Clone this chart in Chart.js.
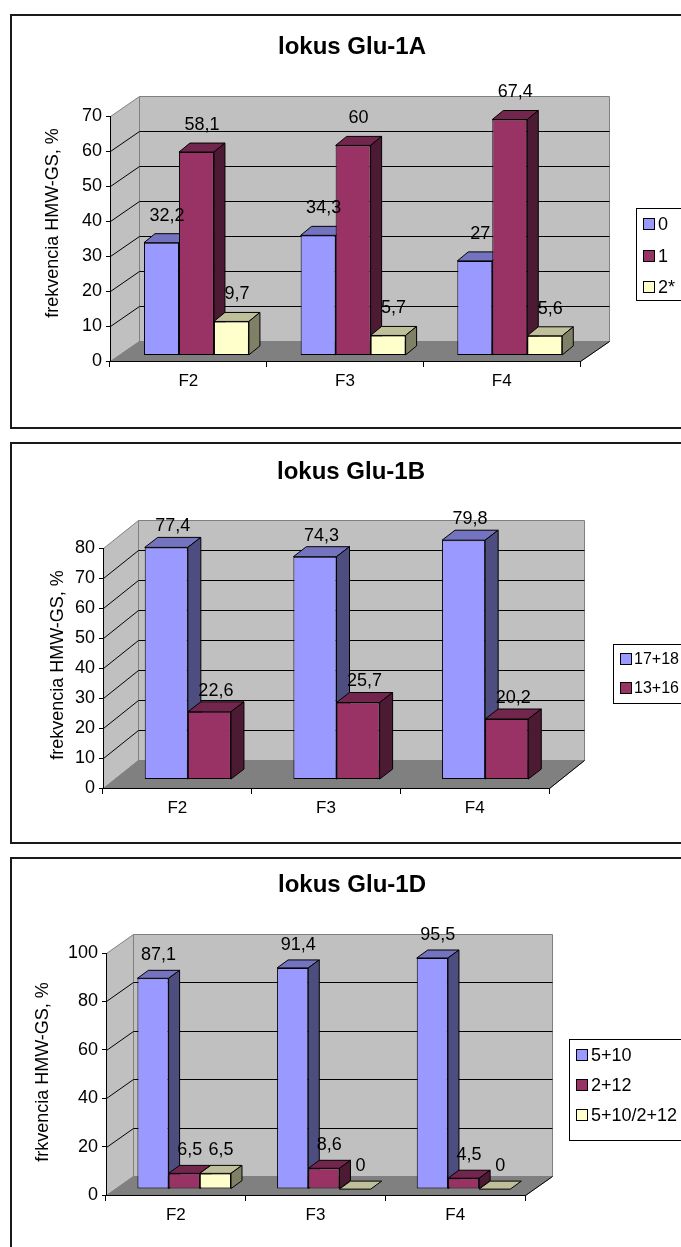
<!DOCTYPE html>
<html lang="sk">
<head>
  <meta charset="UTF-8">
  <title>lokus Glu-1</title>
  <style>
    body {
      margin: 0;
      background: #fff;
      overflow: hidden;
    }
    .box {
      position: absolute;
      left: 10px;
      width: 720px;
      border: 2px solid #1a1a1a;
      box-sizing: border-box;
    }
    canvas {
      position: absolute;
      left: 0;
    }
  </style>
</head>
<body>
  <div class="box" style="top:14px; height:415px;"></div>
  <div class="box" style="top:442px; height:402px;"></div>
  <div class="box" style="top:857px; height:420px;"></div>

  <canvas id="chartA" width="681" height="413" style="top:15px;"></canvas>
  <canvas id="chartB" width="681" height="400" style="top:443px;"></canvas>
  <canvas id="chartD" width="681" height="389" style="top:858px;"></canvas>

  <script src="https://cdn.jsdelivr.net/npm/chart.js"></script>
  <script>
    const categories = ['F2', 'F3', 'F4'];

    // lokus Glu-1A
    const seriesA = ['0', '1', '2*'];
    const glu1a_0 = [32.2, 34.3, 27];
    const glu1a_1 = [58.1, 60, 67.4];
    const glu1a_2 = [9.7, 5.7, 5.6];
    const yTicksA = [0, 10, 20, 30, 40, 50, 60, 70];

    // lokus Glu-1B
    const seriesB = ['17+18', '13+16'];
    const glu1b_1718 = [77.4, 74.3, 79.8];
    const glu1b_1316 = [22.6, 25.7, 20.2];
    const yTicksB = [0, 10, 20, 30, 40, 50, 60, 70, 80];

    // lokus Glu-1D
    const seriesD = ['5+10', '2+12', '5+10/2+12'];
    const glu1d_510 = [87.1, 91.4, 95.5];
    const glu1d_212 = [6.5, 8.6, 4.5];
    const glu1d_mix = [6.5, 0, 0];
    const yTicksD = [0, 20, 40, 60, 80, 100];

    // excel style colours: front / top / side
    const front = ['#9999ff', '#993366', '#ffffcc'];
    const topc = ['#7373bf', '#73264d', '#bfbf99'];
    const side = ['#4d4d80', '#4d1a33', '#808066'];

    const FONT = '"Liberation Sans", Arial, sans-serif';
    Chart.defaults.font.family = FONT;
    Chart.defaults.color = '#000';

    function poly(ctx, pts, fill, stroke) {
      ctx.beginPath();
      pts.forEach((p, k) => k ? ctx.lineTo(p[0], p[1]) : ctx.moveTo(p[0], p[1]));
      ctx.closePath();
      if (fill) { ctx.fillStyle = fill; ctx.fill(); }
      if (stroke) { ctx.strokeStyle = stroke; ctx.stroke(); }
    }

    function barList(chart) {
      const list = [];
      chart.data.datasets.forEach((ds, i) => {
        chart.getDatasetMeta(i).data.forEach((el, j) => list.push({ el, i, j }));
      });
      return list.sort((p, q) => p.el.x - q.el.x);
    }

    // draws walls, floor and the 3d faces of the bars
    const bar3d = {
      id: 'bar3d',
      beforeDraw(chart, args, o) {
        const ctx = chart.ctx, a = chart.chartArea, ys = chart.scales.y;
        const dx = o.wall[0], dy = o.wall[1];
        const L = a.left + .5, R = a.right + .5, T = a.top + .5, B = a.bottom + .5;
        ctx.save();
        ctx.lineWidth = 1;
        poly(ctx, [[L, B], [L + dx, B + dy], [L + dx, T + dy], [L, T]], '#c0c0c0', '#808080');
        poly(ctx, [[L + dx, T + dy], [R + dx, T + dy], [R + dx, B + dy], [L + dx, B + dy]], '#c0c0c0', '#808080');
        poly(ctx, [[L, B], [R, B], [R + dx, B + dy], [L + dx, B + dy]], '#808080', '#808080');
        ctx.strokeStyle = '#000';
        ys.ticks.forEach(t => {
          if (t.value <= ys.min || t.value >= ys.max) return;
          const py = Math.round(ys.getPixelForValue(t.value)) + .5;
          ctx.beginPath();
          ctx.moveTo(L, py);
          ctx.lineTo(L + dx, py + dy);
          ctx.lineTo(R + dx, py + dy);
          ctx.stroke();
        });
        ctx.beginPath();
        ctx.moveTo(R, B);
        ctx.lineTo(R + dx, B + dy);
        ctx.stroke();
        ctx.restore();
      },
      beforeDatasetsDraw(chart, args, o) {
        const ctx = chart.ctx;
        const bx = o.depth[0], by = o.depth[1];
        ctx.save();
        ctx.translate(o.wall[0] * o.plane, o.wall[1] * o.plane);
        ctx.lineWidth = 1;
        ctx.lineJoin = 'round';
        barList(chart).forEach(({ el, i }) => {
          const ds = chart.data.datasets[i];
          el.draw(ctx);
          const l = el.x - el.width / 2, r = el.x + el.width / 2;
          const t = Math.min(el.y, el.base), b = Math.max(el.y, el.base);
          poly(ctx, [[l, t], [r, t], [r + bx, t + by], [l + bx, t + by]], ds.topColor, '#000');
          if (b - t > 0.5) {
            poly(ctx, [[r, t], [r + bx, t + by], [r + bx, b + by], [r, b]], ds.sideColor, '#000');
          }
        });
        ctx.restore();
        return false;
      },
      afterDraw(chart, args, o) {
        const ctx = chart.ctx;
        const sx = o.wall[0] * o.plane, sy = o.wall[1] * o.plane;
        ctx.save();
        ctx.fillStyle = '#000';
        ctx.textAlign = 'center';
        ctx.textBaseline = 'middle';

        // value labels
        ctx.font = '18px ' + FONT;
        barList(chart).forEach(({ el, i, j }) => {
          const v = chart.data.datasets[i].data[j];
          const t = Math.min(el.y, el.base);
          ctx.fillText(String(v).replace('.', ','), el.x + sx + o.depth[0] / 2, t + sy + o.depth[1] - o.gap);
        });

        // title
        ctx.font = 'bold 24px ' + FONT;
        ctx.fillText(o.title, o.titlePos[0], o.titlePos[1]);

        // axis title
        ctx.font = '18px ' + FONT;
        ctx.save();
        ctx.translate(o.axisPos[0], o.axisPos[1]);
        ctx.rotate(-Math.PI / 2);
        ctx.fillText(o.axisTitle, 0, 0);
        ctx.restore();

        // legend
        const lg = o.legend;
        ctx.lineWidth = 1;
        ctx.fillStyle = '#fff';
        ctx.fillRect(lg.x, lg.y, 200, lg.h);
        ctx.strokeStyle = '#000';
        ctx.strokeRect(lg.x + .5, lg.y + .5, 200, lg.h);
        ctx.font = lg.size + 'px ' + FONT;
        ctx.textAlign = 'left';
        chart.data.datasets.forEach((ds, i) => {
          const cy = Math.round(lg.first + i * lg.step);
          ctx.fillStyle = ds.backgroundColor;
          ctx.fillRect(lg.x + 7.5, cy - 5.5, 11, 11);
          ctx.strokeRect(lg.x + 7.5, cy - 5.5, 11, 11);
          ctx.fillStyle = '#000';
          ctx.fillText(ds.label, lg.x + lg.text, cy + 1);
        });
        ctx.restore();
      }
    };

    function makeChart(id, series, values, yTicks, o) {
      const canvas = document.getElementById(id);
      const W = canvas.width, H = canvas.height;
      return new Chart(canvas, {
        type: 'bar',
        data: {
          labels: categories,
          datasets: values.map((v, i) => ({
            label: series[i],
            data: v,
            backgroundColor: front[i],
            borderColor: '#000',
            borderWidth: 1,
            borderSkipped: false,
            topColor: topc[i],
            sideColor: side[i],
            barPercentage: 1,
            categoryPercentage: o.cat
          }))
        },
        options: {
          responsive: false,
          animation: false,
          events: [],
          layout: { padding: { left: o.L - 60, right: W - o.R, top: o.T, bottom: H - o.B - 40 } },
          plugins: {
            legend: { display: false },
            tooltip: { enabled: false },
            bar3d: o
          },
          scales: {
            x: {
              grid: { offset: true, drawOnChartArea: false, tickLength: 6, color: '#000' },
              border: { color: '#000' },
              ticks: { font: { size: 17 }, padding: 4, maxRotation: 0 },
              afterFit: s => { s.height = 40; }
            },
            y: {
              min: yTicks[0],
              max: yTicks[yTicks.length - 1],
              grid: { drawOnChartArea: false, tickLength: 4, color: '#000' },
              border: { color: '#000' },
              ticks: { stepSize: yTicks[1] - yTicks[0], font: { size: 18 }, padding: 4 },
              afterFit: s => { s.width = 60; }
            }
          }
        },
        plugins: [bar3d]
      });
    }

    makeChart('chartA', seriesA, [glu1a_0, glu1a_1, glu1a_2], yTicksA, {
      L: 110, R: 580, T: 101, B: 346, cat: 0.67,
      wall: [29, -20], plane: 0.28, depth: [11, -9], gap: 18,
      title: 'lokus Glu-1A', titlePos: [352, 32],
      axisTitle: 'frekvencia HMW-GS, %', axisPos: [53, 208],
      legend: { x: 636, y: 193, h: 92, first: 209, step: 31.5, size: 18, text: 22 }
    });

    makeChart('chartB', seriesB, [glu1b_1718, glu1b_1316], yTicksB, {
      L: 103, R: 549, T: 105, B: 345, cat: 0.58,
      wall: [35, -28], plane: 0.3, depth: [13, -10], gap: 11,
      title: 'lokus Glu-1B', titlePos: [351, 29],
      axisTitle: 'frekvencia HMW-GS, %', axisPos: [58, 222],
      legend: { x: 613, y: 201, h: 59, first: 216, step: 29, size: 16, text: 21 }
    });

    makeChart('chartD', seriesD, [glu1d_510, glu1d_212, glu1d_mix], yTicksD, {
      L: 106, R: 525, T: 95, B: 337, cat: 0.67,
      wall: [27, -19], plane: 0.31, depth: [11, -8], gap: 15,
      title: 'lokus Glu-1D', titlePos: [352, 27],
      axisTitle: 'frkvencia HMW-GS, %', axisPos: [43, 214],
      legend: { x: 569, y: 181, h: 101, first: 197, step: 30, size: 18, text: 22 }
    });
  </script>
</body>
</html>
